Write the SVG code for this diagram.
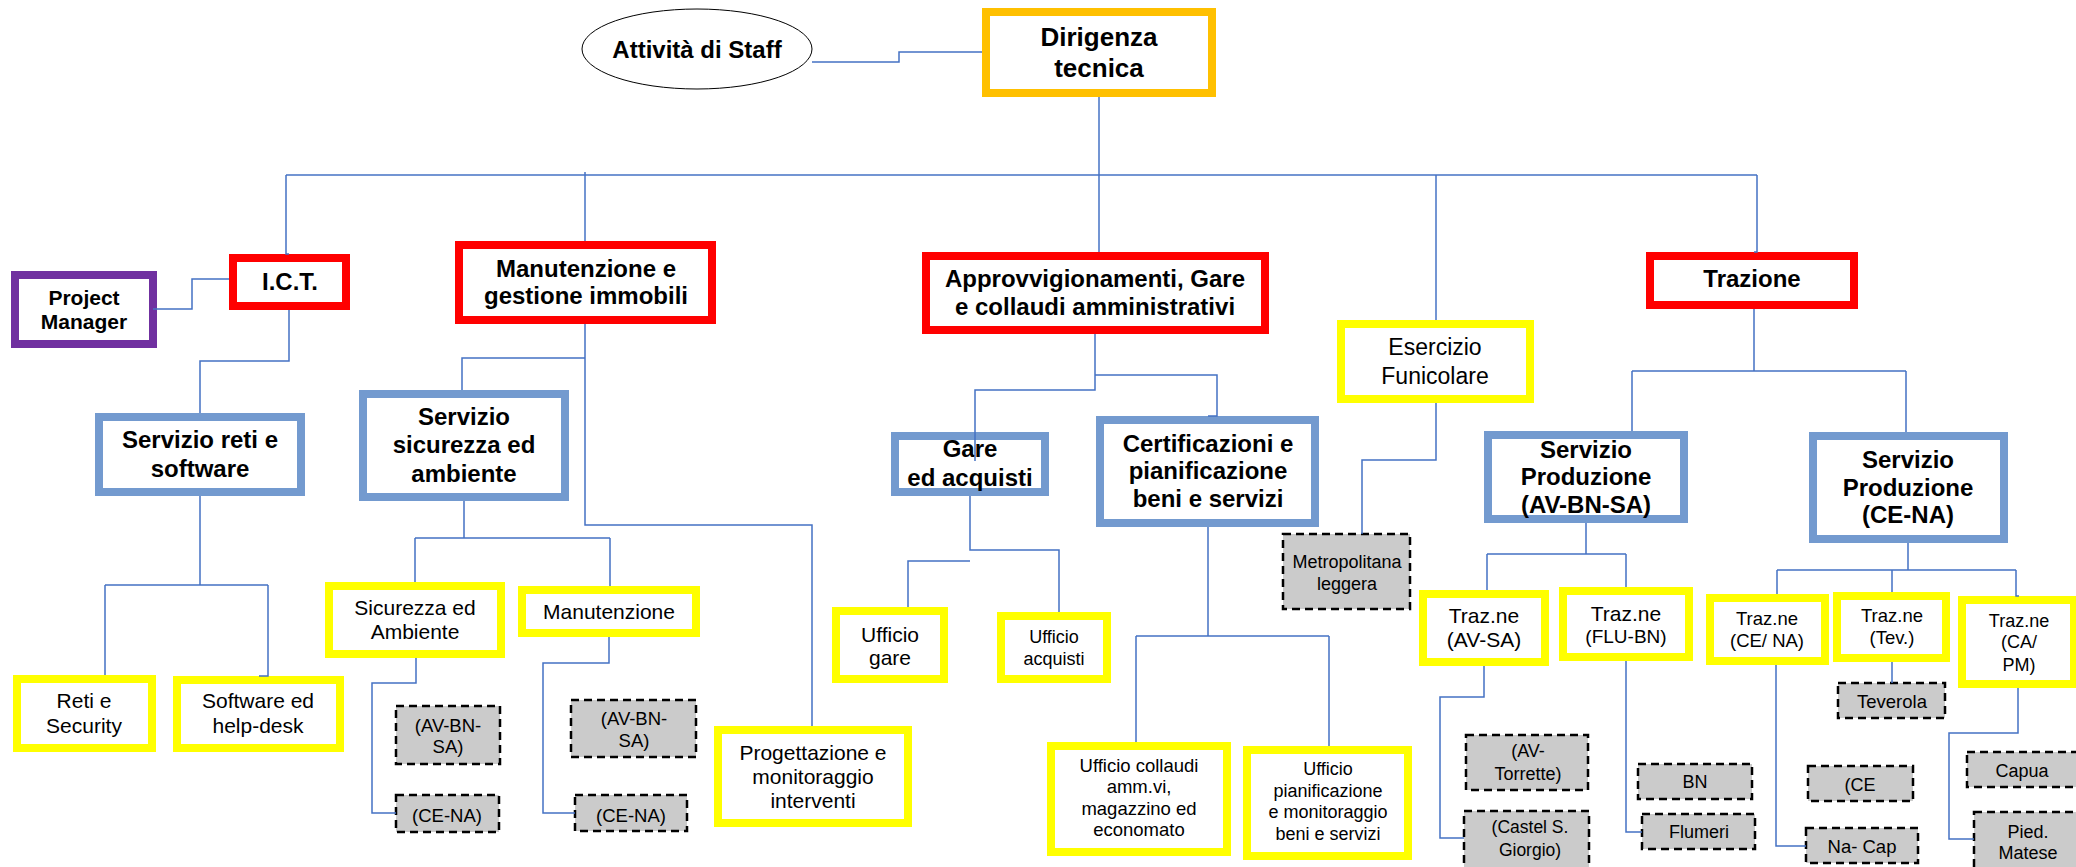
<svg xmlns="http://www.w3.org/2000/svg" width="2076" height="867" viewBox="0 0 2076 867">
<style>
text{font-family:"Liberation Sans",Arial,sans-serif;fill:#000;text-anchor:middle}
.b{font-weight:bold;font-size:24px}
.r{font-size:21px}
.s{font-size:18px}
.red{fill:#fff;stroke:#FF0000;stroke-width:8}
.yel{fill:#fff;stroke:#FFFF00;stroke-width:8}
.blu{fill:#fff;stroke:#739ACF;stroke-width:8}
.gry{fill:#CBCBCB;stroke:#000;stroke-width:2.5;stroke-dasharray:8 5}
.con path{fill:none;stroke:#4472C4;stroke-width:1.5}
</style>
<rect width="2076" height="867" fill="#fff"/>
<g id="staff"><ellipse cx="697" cy="49" rx="115" ry="40" fill="#fff" stroke="#000" stroke-width="1"/><text class="b" x="697" y="58">Attività di Staff</text></g>
<g id="dirigenza"><rect x="986" y="12" width="226" height="81" fill="#fff" stroke="#FFC000" stroke-width="8"/><text class="b" style="font-size:26px" x="1099" y="46">Dirigenza</text><text class="b" style="font-size:26px" x="1099" y="77">tecnica</text></g>
<g id="pm"><rect x="15" y="275" width="138" height="69" fill="#fff" stroke="#7030A0" stroke-width="8"/><text class="b" style="font-size:21px" x="84" y="305">Project</text><text class="b" style="font-size:21px" x="84" y="329">Manager</text></g>
<g id="ict"><rect class="red" x="233" y="258" width="113" height="48"/><text class="b" x="290" y="290">I.C.T.</text></g>
<g id="manut"><rect class="red" x="459" y="245" width="253" height="75"/><text class="b" x="586" y="277">Manutenzione e</text><text class="b" x="586" y="304">gestione immobili</text></g>
<g id="approv"><rect class="red" x="926" y="256" width="339" height="74"/><text class="b" x="1095" y="287">Approvvigionamenti, Gare</text><text class="b" x="1095" y="315">e collaudi amministrativi</text></g>
<g id="trazione"><rect class="red" x="1650" y="256" width="204" height="49"/><text class="b" x="1752" y="287">Trazione</text></g>
<g id="esercizio"><rect class="yel" x="1341" y="324" width="189" height="75"/><text style="font-size:23px" x="1435" y="355">Esercizio</text><text style="font-size:23px" x="1435" y="384">Funicolare</text></g>
<g id="metro"><rect class="gry" x="1283" y="534" width="127" height="75"/><text class="s" x="1347" y="568">Metropolitana</text><text class="s" x="1347" y="590">leggera</text></g>
<g id="servreti"><rect class="blu" x="99" y="417" width="202" height="75"/><text class="b" x="200" y="448">Servizio reti e</text><text class="b" x="200" y="477">software</text></g>
<g id="servsic"><rect class="blu" x="363" y="394" width="202" height="103"/><text class="b" x="464" y="425">Servizio</text><text class="b" x="464" y="453">sicurezza ed</text><text class="b" x="464" y="482">ambiente</text></g>
<g id="reti"><rect class="yel" x="17" y="679" width="135" height="69"/><text class="r" x="84" y="708">Reti e</text><text class="r" x="84" y="733">Security</text></g>
<g id="software"><rect class="yel" x="177" y="680" width="163" height="68"/><text class="r" x="258" y="708">Software ed</text><text class="r" x="258" y="733">help-desk</text></g>
<g id="sicamb"><rect class="yel" x="329" y="586" width="172" height="68"/><text class="r" x="415" y="615">Sicurezza ed</text><text class="r" x="415" y="639">Ambiente</text></g>
<g id="manut2"><rect class="yel" x="522" y="590" width="174" height="43"/><text class="r" x="609" y="619">Manutenzione</text></g>
<g id="sic-avbnsa"><rect class="gry" x="396" y="706" width="104" height="58"/><text class="s" style="font-size:18.5px" x="448" y="732">(AV-BN-</text><text class="s" style="font-size:18.5px" x="448" y="753">SA)</text></g>
<g id="sic-cena"><rect class="gry" x="396" y="795" width="103" height="37"/><text class="s" style="font-size:18.5px" x="447" y="822">(CE-NA)</text></g>
<g id="man-avbnsa"><rect class="gry" x="571" y="700" width="125" height="57"/><text class="s" style="font-size:18.5px" x="634" y="725">(AV-BN-</text><text class="s" style="font-size:18.5px" x="634" y="747">SA)</text></g>
<g id="man-cena"><rect class="gry" x="575" y="795" width="112" height="36"/><text class="s" style="font-size:18.5px" x="631" y="822">(CE-NA)</text></g>
<g id="progett"><rect class="yel" x="718" y="730" width="190" height="93"/><text class="r" x="813" y="760">Progettazione e</text><text class="r" x="813" y="784">monitoraggio</text><text class="r" x="813" y="808">interventi</text></g>
<g id="gare"><rect class="blu" x="895" y="436" width="150" height="56"/><text class="b" x="970" y="457">Gare</text><text class="b" x="970" y="486">ed acquisti</text></g>
<g id="cert"><rect class="blu" x="1100" y="420" width="215" height="103"/><text class="b" x="1208" y="452">Certificazioni e</text><text class="b" x="1208" y="479">pianificazione</text><text class="b" x="1208" y="507">beni e servizi</text></g>
<g id="ufgare"><rect class="yel" x="836" y="611" width="108" height="68"/><text class="r" x="890" y="642">Ufficio</text><text class="r" x="890" y="665">gare</text></g>
<g id="ufacq"><rect class="yel" x="1001" y="616" width="106" height="63"/><text class="s" x="1054" y="643">Ufficio</text><text class="s" x="1054" y="665">acquisti</text></g>
<g id="ufcoll"><rect class="yel" x="1051" y="746" width="176" height="106"/><text class="s" style="font-size:18.5px" x="1139" y="772">Ufficio collaudi</text><text class="s" style="font-size:18.5px" x="1139" y="793">amm.vi,</text><text class="s" style="font-size:18.5px" x="1139" y="815">magazzino ed</text><text class="s" style="font-size:18.5px" x="1139" y="836">economato</text></g>
<g id="ufpian"><rect class="yel" x="1247" y="750" width="161" height="106"/><text class="s" x="1328" y="775">Ufficio</text><text class="s" x="1328" y="797">pianificazione</text><text class="s" x="1328" y="818">e monitoraggio</text><text class="s" x="1328" y="840">beni e servizi</text></g>
<g id="prodav"><rect class="blu" x="1488" y="435" width="196" height="84"/><text class="b" x="1586" y="458">Servizio</text><text class="b" x="1586" y="485">Produzione</text><text class="b" x="1586" y="513">(AV-BN-SA)</text></g>
<g id="prodce"><rect class="blu" x="1813" y="436" width="191" height="103"/><text class="b" x="1908" y="468">Servizio</text><text class="b" x="1908" y="496">Produzione</text><text class="b" x="1908" y="523">(CE-NA)</text></g>
<g id="tavsa"><rect class="yel" x="1423" y="594" width="122" height="68"/><text class="r" x="1484" y="623">Traz.ne</text><text class="r" x="1484" y="647">(AV-SA)</text></g>
<g id="tflubn"><rect class="yel" x="1563" y="591" width="126" height="66"/><text class="r" x="1626" y="621">Traz.ne</text><text style="font-size:19px" x="1626" y="643">(FLU-BN)</text></g>
<g id="tcena"><rect class="yel" x="1710" y="598" width="115" height="63"/><text class="s" style="font-size:18.5px" x="1767" y="625">Traz.ne</text><text class="s" style="font-size:18.5px" x="1767" y="647">(CE/ NA)</text></g>
<g id="ttev"><rect class="yel" x="1837" y="596" width="109" height="62"/><text class="s" style="font-size:18.5px" x="1892" y="622">Traz.ne</text><text class="s" style="font-size:18.5px" x="1892" y="644">(Tev.)</text></g>
<g id="tcapm"><rect class="yel" x="1962" y="600" width="112" height="84"/><text class="s" x="2019" y="627">Traz.ne</text><text class="s" x="2019" y="648">(CA/</text><text class="s" x="2019" y="671">PM)</text></g>
<g id="torrette"><rect class="gry" x="1466" y="735" width="122" height="55"/><text class="s" x="1528" y="757">(AV-</text><text class="s" x="1528" y="780">Torrette)</text></g>
<g id="castel"><rect class="gry" x="1464" y="811" width="125" height="70"/><text class="s" style="font-size:17.5px" x="1530" y="833">(Castel S.</text><text class="s" style="font-size:17.5px" x="1530" y="856">Giorgio)</text></g>
<g id="bn"><rect class="gry" x="1638" y="764" width="114" height="35"/><text class="s" x="1695" y="788">BN</text></g>
<g id="flumeri"><rect class="gry" x="1642" y="814" width="113" height="35"/><text class="s" x="1699" y="838">Flumeri</text></g>
<g id="teverola"><rect class="gry" x="1838" y="683" width="107" height="35"/><text class="s" style="font-size:18.5px" x="1892" y="708">Teverola</text></g>
<g id="ce"><rect class="gry" x="1808" y="766" width="105" height="35"/><text class="s" x="1860" y="791">(CE</text></g>
<g id="nacap"><rect class="gry" x="1806" y="828" width="112" height="35"/><text class="s" style="font-size:18.5px" x="1862" y="853">Na- Cap</text></g>
<g id="capua"><rect class="gry" x="1967" y="752" width="120" height="35"/><text class="s" x="2022" y="777">Capua</text></g>
<g id="pied"><rect class="gry" x="1974" y="812" width="120" height="70"/><text class="s" x="2028" y="838">Pied.</text><text class="s" x="2028" y="859">Matese</text></g>
<g id="connectors" class="con">
<path d="M812,62 H899 V52 H982"/>
<path d="M1099,97 V252"/>
<path d="M286,175 H1757"/>
<path d="M286,175 V254 H289"/>
<path d="M585,172 V241"/>
<path d="M1436,175 V320"/>
<path d="M1757,175 V252 H1754"/>
<path d="M153,309 H192 V279 H229"/>
<path d="M289,310 V361 H200 V413"/>
<path d="M200,496 V585 M105,585 H268 M105,585 V675 M268,585 V676 H259"/>
<path d="M585,324 V525 H812 V726"/>
<path d="M585,358 H462 V390"/>
<path d="M464,501 V538 M415,538 H610 M415,538 V582 M610,538 V586"/>
<path d="M416,658 V683 H372 V813 H396"/>
<path d="M609,637 V663 H543 V813 H575"/>
<path d="M1095,334 V390 H975 V461"/>
<path d="M1095,375 H1217 V416 H1208"/>
<path d="M970,496 V550 H1059 V612 M970,561 H908 V607"/>
<path d="M1208,527 V636 M1136,636 H1329 M1136,636 V742 M1329,636 V746"/>
<path d="M1436,403 V460 H1362 V534"/>
<path d="M1754,309 V371 M1632,371 H1906 M1632,371 V431 M1906,371 V432"/>
<path d="M1586,523 V554 M1487,554 H1626 M1487,554 V590 M1626,554 V587"/>
<path d="M1908,543 V570 M1777,570 H2016 M1777,570 V594 M1892,570 V592 M2016,570 V596 H2019"/>
<path d="M1484,666 V697 H1440 V838 H1464"/>
<path d="M1626,661 V832 H1642"/>
<path d="M1776,665 V846 H1806"/>
<path d="M1892,662 V683"/>
<path d="M2018,688 V733 H1949 V839 H1974"/>
</g>
</svg>
